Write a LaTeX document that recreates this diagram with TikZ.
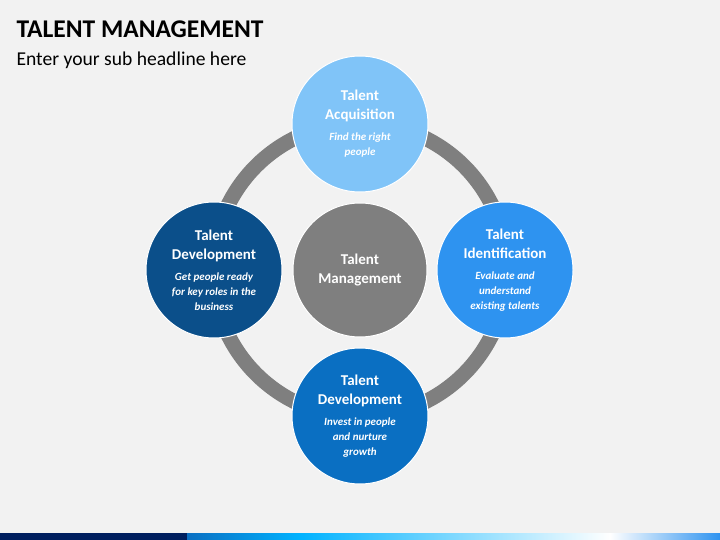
\documentclass[tikz,border=0pt]{standalone}
\usepackage{fontspec}
\setmainfont{Carlito}
\usetikzlibrary{positioning}
\definecolor{bgray}{HTML}{F2F2F2}
\definecolor{ringgray}{HTML}{7F7F7F}
\definecolor{acqblue}{HTML}{80C4F8}
\definecolor{idblue}{HTML}{2E93F0}
\definecolor{devblue}{HTML}{0A6FC2}
\definecolor{navyblue}{HTML}{0B4F8A}
\definecolor{barnavy}{HTML}{001F5F}
\newcommand{\hd}{\fontsize{15}{19}\selectfont\bfseries}
\newcommand{\sd}{\fontsize{11}{15}\selectfont\bfseries\itshape}
\tikzset{
  topic/.style={circle, minimum size=136pt, inner sep=0pt, draw=white, line width=1pt, text=white, align=center, font=\hd},
}
\begin{document}
\begin{tikzpicture}[x=1pt, y=1pt]
\useasboundingbox (0,0) rectangle (720,-540);
\fill[bgray] (0,0) rectangle (720,-540);

% Title
\node (title) [anchor=west, font=\fontsize{25.5}{28}\selectfont\bfseries] at (13,-29) {TALENT MANAGEMENT};
\node (sub) [anchor=west, font=\fontsize{19.6}{22}\selectfont] at (13,-60) {Enter your sub headline here};

% Ring
\draw[ringgray, line width=15pt] (360,-270) circle (147);

% Circles
\node (center) [topic, fill=ringgray, minimum size=134pt] at (360,-270) {Talent\\Management};
\node (acq) [topic, fill=acqblue] at (360,-124) {Talent\\Acquisition\\[2pt]\sd Find the right\\[-4pt]\sd people};
\node (ident) [topic, fill=idblue] at (505,-270) {Talent\\Identification\\[2pt]\sd Evaluate and\\[-4pt]\sd understand\\[-4pt]\sd existing talents};
\node (devb) [topic, fill=devblue] at (360,-416) {Talent\\Development\\[2pt]\sd Invest in people\\[-4pt]\sd and nurture\\[-4pt]\sd growth};
\node (devl) [topic, fill=navyblue] at (214,-270) {Talent\\Development\\[2pt]\sd Get people ready\\[-4pt]\sd for key roles in the\\[-4pt]\sd business};

% Bottom bar
\fill[barnavy] (0,-533) rectangle (187,-540);
\shade[left color=devblue, right color=cyan!70!blue] (187,-533) rectangle (300,-540);
\shade[left color=cyan!70!blue, right color=white] (300,-533) rectangle (610,-540);
\shade[left color=white, right color=idblue] (610,-533) rectangle (720,-540);
\end{tikzpicture}
\end{document}
